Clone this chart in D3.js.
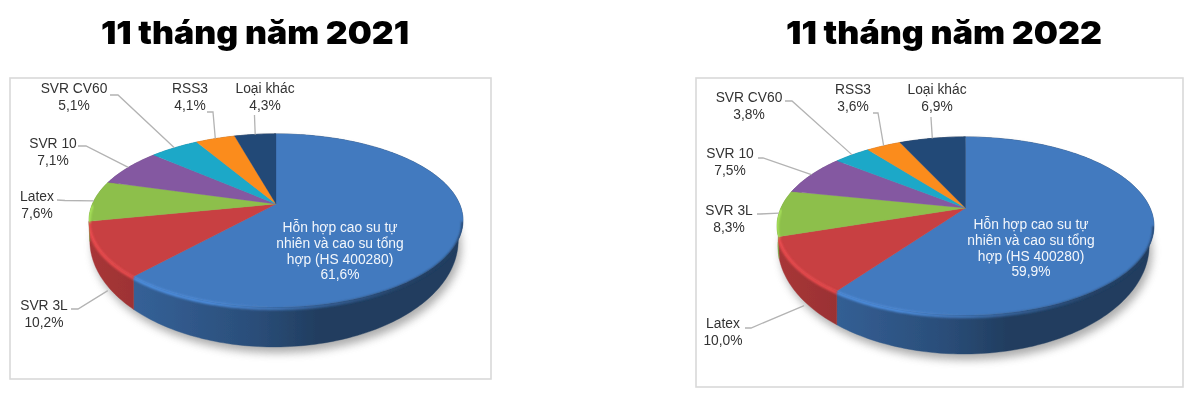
<!DOCTYPE html>
<html><head><meta charset="utf-8">
<script src="https://cdn.jsdelivr.net/npm/d3@7"></script>
<style>html,body{margin:0;padding:0;background:#fff}svg{display:block}</style>
</head><body><svg id="c" width="1193" height="394"></svg>
<script>
// ---- data ----
const titles = ["11 tháng năm 2021", "11 tháng năm 2022"];
const categories2021 = ["Hỗn hợp cao su tự nhiên và cao su tổng hợp (HS 400280)", "SVR 3L", "Latex", "SVR 10", "SVR CV60", "RSS3", "Loại khác"];
const values2021 = [61.6, 10.2, 7.6, 7.1, 5.1, 4.1, 4.3];
const categories2022 = ["Hỗn hợp cao su tự nhiên và cao su tổng hợp (HS 400280)", "Latex", "SVR 3L", "SVR 10", "SVR CV60", "RSS3", "Loại khác"];
const values2022 = [59.9, 10.0, 8.3, 7.5, 3.8, 3.6, 6.9];
const sliceColors = ["#437abf", "#c84042", "#8dbf4b", "#8459a1", "#1ca8c8", "#fb8c1e", "#224877"];
const mainLabelLines = ["Hỗn hợp cao su tự", "nhiên và cao su tổng", "hợp (HS 400280)"];

// ---- layout ----
const layouts = [
  { frame:[10,78,481,301], cx:276, cy:204, R:183.6, A:83.4, k:0.19, depth:40, titleX:255, titleY:44, titleW:308,
    main:{x:340,y:232},
    labels:[null,
      {x:44,y:310,from:[71,309],elbow:[78,309],rim:1.15,nudge:-0.09},
      {x:37,y:201,from:[57,200],elbow:[65,200.5],rim:0,nudge:0},
      {x:53,y:148,from:[78,146],elbow:[86,146],rim:0,nudge:0},
      {x:74,y:93,from:[110,95],elbow:[118,95],rim:0,nudge:0},
      {x:190,y:93,from:[207,112],elbow:[213,112],rim:0,nudge:0},
      {x:265,y:93,from:[254.5,115],elbow:[254.5,116],rim:0,nudge:0}] },
  { frame:[696,78,487,309], cx:965.5, cy:208, R:184.6, A:85.4, k:0.202, depth:39, titleX:944, titleY:44, titleW:316,
    main:{x:1031,y:229},
    labels:[null,
      {x:723,y:328,from:[745,328],elbow:[751,328],rim:1.15,nudge:-0.07},
      {x:729,y:215,from:[757,214],elbow:[760,214],rim:0,nudge:0},
      {x:730,y:158,from:[758,158],elbow:[763,158],rim:0,nudge:0},
      {x:749,y:102,from:[785,101],elbow:[792,101],rim:0,nudge:0},
      {x:853,y:94,from:[873,113],elbow:[878,113],rim:0,nudge:0},
      {x:937,y:94,from:[931,117],elbow:[931,118],rim:0,nudge:0}] }
];
const sets = [
  {categories:categories2021, values:values2021},
  {categories:categories2022, values:values2022}
];

const svg = d3.select("#c");
const defs = svg.append("defs");
const blur = (id,s)=>defs.append("filter").attr("id",id).attr("x","-20%").attr("y","-20%").attr("width","140%").attr("height","140%")
  .append("feGaussianBlur").attr("stdDeviation",s);
blur("shadowBlur",4); blur("rimBlur",1.0); blur("soft",0.35);

const fmt = v => v.toFixed(1).replace(".",",") + "%";
const pie = d3.pie().sort(null).value(d=>d);
const line = d3.line();

sets.forEach((set,ci)=>{
  const L = layouts[ci];
  const g = svg.append("g").attr("filter","url(#soft)");
  // extent of the projected top face, used to taper the wall toward the sides
  const yBack=L.cy-L.A/(1+L.k), yFront=L.cy+L.A/(1-L.k);
  const yMid=(yBack+yFront)/2, yR=(yFront-yBack)/2;
  const project = (a,d=0)=>{
    const u=Math.sin(a), v=-Math.cos(a), w=1-L.k*v;
    const x=L.cx+L.R*u/w, y=L.cy+L.A*v/w;
    const t=0.5+0.5*(y-yMid)/yR;
    return [L.cx-2*(d?1:0)+(x-L.cx)*(d?0.985:1), y+d*t];
  };
  const arcPts = (a0,a1,d)=>{
    const n=Math.max(2,Math.ceil((a1-a0)/0.02));
    return d3.range(n+1).map(i=>project(a0+(a1-a0)*i/n,d));
  };

  g.append("text").attr("x",L.titleX).attr("y",L.titleY).attr("text-anchor","middle")
    .attr("font-family","Inter, 'Open Sans', sans-serif").attr("font-weight",900).attr("font-size",32)
    .attr("textLength",L.titleW).attr("lengthAdjust","spacingAndGlyphs")
    .attr("fill","#000").text(titles[ci]);

  g.append("rect").attr("x",L.frame[0]).attr("y",L.frame[1]).attr("width",L.frame[2]).attr("height",L.frame[3])
    .attr("fill","#fff").attr("stroke","#d9d9d9").attr("stroke-width",1.6);

  const clipId="frameClip"+ci;
  defs.append("clipPath").attr("id",clipId).append("rect")
    .attr("x",L.frame[0]+1).attr("y",L.frame[1]+1).attr("width",L.frame[2]-2).attr("height",L.frame[3]-2);

  // soft shadow under the disc
  g.append("g").attr("clip-path",`url(#${clipId})`).append("path")
    .attr("d",line(arcPts(0,2*Math.PI,L.depth))+"Z")
    .attr("transform","translate(3,6)")
    .attr("fill","#777").attr("opacity",0.6).attr("filter","url(#shadowBlur)");

  const arcs = pie(set.values);
  const xGrad=(id,stops)=>{
    const gr=defs.append("linearGradient").attr("id",id).attr("gradientUnits","userSpaceOnUse")
      .attr("x1",L.cx-L.R).attr("x2",L.cx+L.R).attr("y1",0).attr("y2",0);
    stops.forEach(s=>gr.append("stop").attr("offset",s[0]).attr("stop-color",s[1]));
  };

  // side wall
  const wallClip=defs.append("clipPath").attr("id","disc"+ci);
  wallClip.append("path").attr("d",line(arcPts(0,2*Math.PI,0))+"Z");
  arcs.forEach((a,i)=>{
    const c=d3.color(sliceColors[i]);
    const id=`side${ci}_${i}`;
    xGrad(id,[[0,c.darker(0.5)],[0.2,c.darker(0.8)],[0.45,c.darker(1.3)],[0.62,c.darker(1.95)],[1,c.darker(1.95)]]);
    const top=arcPts(a.startAngle,a.endAngle,0), bot=arcPts(a.startAngle,a.endAngle,L.depth).reverse();
    const d=line(top.concat(bot))+"Z";
    wallClip.append("path").attr("d",d);
    g.append("path").attr("d",d).attr("fill",`url(#${id})`)
      .attr("stroke",`url(#${id})`).attr("stroke-width",0.4);
  });

  // top face
  arcs.forEach((a,i)=>{
    const pts=[[L.cx,L.cy]].concat(arcPts(a.startAngle,a.endAngle,0));
    g.append("path").attr("d",line(pts)+"Z").attr("fill",sliceColors[i])
      .attr("stroke",sliceColors[i]).attr("stroke-width",0.3);
  });

  // bevel along the front rim
  const rimG=g.append("g").attr("clip-path",`url(#disc${ci})`);
  arcs.forEach((a,i)=>{
    const a0=Math.max(a.startAngle,Math.PI*0.56), a1=Math.min(a.endAngle,Math.PI*1.5);
    if(a1<=a0) return;
    const c=d3.color(sliceColors[i]);
    const id=`rim${ci}_${i}`;
    xGrad(id,[[0,c.brighter(0.5)],[0.32,c.brighter(0.5)],[0.62,c.darker(0.5)],[0.85,c.darker(1.7)],[1,c.darker(1.9)]]);
    const pts=arcPts(a0,a1,0).map(p=>[p[0],p[1]+1.5]);
    rimG.append("path").attr("d",line(pts))
      .attr("fill","none").attr("stroke",`url(#${id})`).attr("stroke-width",3).attr("filter","url(#rimBlur)");
  });

  // leader lines
  arcs.forEach((a,i)=>{
    const lab=L.labels[i]; if(!lab) return;
    const mid=(a.startAngle+a.endAngle)/2+lab.nudge;
    const end=project(mid,lab.rim*L.depth);
    g.append("path").attr("d",line([lab.from,lab.elbow,end])).attr("fill","none")
      .attr("stroke","#b3b3b3").attr("stroke-width",1.3);
  });

  // labels
  const textStyle=s=>s.attr("font-family","'Liberation Sans', Arial, sans-serif").attr("font-size",13.8).attr("text-anchor","middle");
  arcs.forEach((a,i)=>{
    const lab=L.labels[i]; if(!lab) return;
    const t=g.append("text").call(textStyle).attr("fill","#333");
    t.append("tspan").attr("x",lab.x).attr("y",lab.y).text(set.categories[i]);
    t.append("tspan").attr("x",lab.x).attr("y",lab.y+16.5).text(fmt(set.values[i]));
  });
  const mt=g.append("text").call(textStyle).attr("fill","#f2f6fb");
  mainLabelLines.concat([fmt(set.values[0])]).forEach((s,i)=>
    mt.append("tspan").attr("x",L.main.x).attr("y",L.main.y+i*15.8).text(s));
});
</script></body></html>
